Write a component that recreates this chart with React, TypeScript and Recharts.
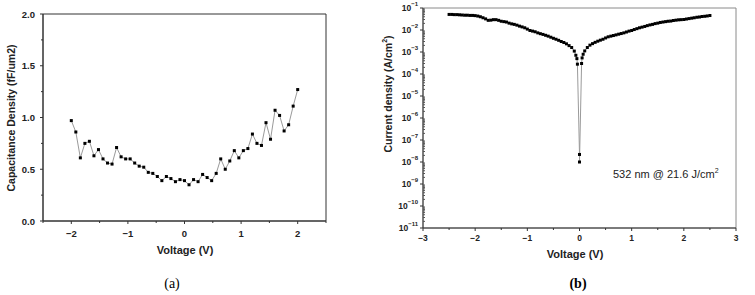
import React from "react";
import { LineChart, Line, XAxis, YAxis, ReferenceArea } from "recharts";

// (a) C-V
const voltageA = [
  -2, -1.92, -1.84, -1.76, -1.68, -1.6, -1.52, -1.44, -1.36, -1.28,
  -1.2, -1.12, -1.04, -0.96, -0.88, -0.8, -0.72, -0.64, -0.56, -0.48,
  -0.4, -0.32, -0.24, -0.16, -0.08, 0, 0.08, 0.16, 0.24, 0.32,
  0.4, 0.48, 0.56, 0.64, 0.72, 0.8, 0.88, 0.96, 1.04, 1.12,
  1.2, 1.28, 1.36, 1.44, 1.52, 1.6, 1.68, 1.76, 1.84, 1.92, 2,
];
const capacitance = [
  0.97, 0.86, 0.61, 0.75, 0.77, 0.63, 0.69, 0.6, 0.56, 0.55,
  0.71, 0.62, 0.6, 0.6, 0.56, 0.53, 0.52, 0.47, 0.46, 0.43,
  0.39, 0.43, 0.41, 0.38, 0.4, 0.39, 0.35, 0.4, 0.38, 0.45,
  0.42, 0.39, 0.46, 0.6, 0.5, 0.58, 0.68, 0.61, 0.68, 0.7,
  0.84, 0.75, 0.73, 0.95, 0.79, 1.07, 1.02, 0.87, 0.93, 1.11, 1.27,
];
const xTicksA = [-2.5, -2, -1.5, -1, -0.5, 0, 0.5, 1, 1.5, 2, 2.5];
const yTicksA = [0, 0.25, 0.5, 0.75, 1, 1.25, 1.5, 1.75, 2];

// (b) J-V under illumination
const voltageB = [
  -2.5, -2.45, -2.4, -2.35, -2.3, -2.25, -2.2, -2.15, -2.1, -2.05,
  -2, -1.95, -1.9, -1.85, -1.8, -1.75, -1.7, -1.65, -1.6, -1.55,
  -1.5, -1.45, -1.4, -1.35, -1.3, -1.25, -1.2, -1.15, -1.1, -1.05,
  -1, -0.95, -0.9, -0.85, -0.8, -0.75, -0.7, -0.65, -0.6, -0.55,
  -0.5, -0.45, -0.4, -0.35, -0.3, -0.25, -0.2, -0.15, -0.1,
  -0.07, -0.05, -0.04, 0, 0, 0.04, 0.05, 0.07,
  0.1, 0.15, 0.2, 0.25, 0.3, 0.35, 0.4, 0.45, 0.5, 0.55,
  0.6, 0.65, 0.7, 0.75, 0.8, 0.85, 0.9, 0.95, 1, 1.05,
  1.1, 1.15, 1.2, 1.25, 1.3, 1.35, 1.4, 1.45, 1.5, 1.55,
  1.6, 1.65, 1.7, 1.75, 1.8, 1.85, 1.9, 1.95, 2, 2.05,
  2.1, 2.15, 2.2, 2.25, 2.3, 2.35, 2.4, 2.45, 2.5,
];
const currentDensity = [
  5.1e-2, 5.1e-2, 5.0e-2, 5.0e-2, 4.9e-2, 4.8e-2, 4.7e-2, 4.7e-2, 4.6e-2, 4.6e-2,
  4.5e-2, 4.3e-2, 4.0e-2, 3.6e-2, 3.2e-2, 2.75e-2, 2.8e-2, 2.95e-2, 2.95e-2, 2.75e-2,
  2.5e-2, 2.4e-2, 2.3e-2, 2.05e-2, 1.9e-2, 1.8e-2, 1.66e-2, 1.5e-2, 1.38e-2, 1.26e-2,
  1.1e-2, 9.5e-3, 8.9e-3, 8.3e-3, 7.4e-3, 6.8e-3, 6.3e-3, 5.75e-3, 5.25e-3, 4.7e-3,
  4.2e-3, 3.8e-3, 3.4e-3, 3.0e-3, 2.7e-3, 2.35e-3, 1.95e-3, 1.6e-3, 1.1e-3,
  7.1e-4, 5.0e-4, 2.8e-4, 2.2e-8, 1.0e-8, 3.0e-4, 5.4e-4, 7.9e-4,
  1.12e-3, 1.6e-3, 2.05e-3, 2.4e-3, 2.75e-3, 3.1e-3, 3.45e-3, 3.8e-3, 4.35e-3, 4.9e-3,
  5.25e-3, 5.6e-3, 6.0e-3, 6.45e-3, 6.9e-3, 7.4e-3, 8.1e-3, 8.9e-3, 9.5e-3, 1.05e-2,
  1.15e-2, 1.26e-2, 1.35e-2, 1.45e-2, 1.58e-2, 1.7e-2, 1.8e-2, 1.95e-2, 2.05e-2, 2.2e-2,
  2.3e-2, 2.4e-2, 2.5e-2, 2.55e-2, 2.7e-2, 2.8e-2, 2.9e-2, 2.95e-2, 3.0e-2, 3.15e-2,
  3.3e-2, 3.45e-2, 3.6e-2, 3.8e-2, 3.9e-2, 4.1e-2, 4.2e-2, 4.35e-2, 4.55e-2,
];
const xTicksB = [-3, -2.5, -2, -1.5, -1, -0.5, 0, 0.5, 1, 1.5, 2, 2.5, 3];
const decadesB = [-11, -10, -9, -8, -7, -6, -5, -4, -3, -2, -1];
const yTicksB: number[] = [];
decadesB.forEach((d) => {
  yTicksB.push(Math.pow(10, d));
  if (d < -1) for (let m = 2; m <= 9; m++) yTicksB.push(m * Math.pow(10, d));
});

const dataA = voltageA.map((v, i) => ({ v, c: capacitance[i] }));
const dataB = voltageB.map((v, i) => ({ v, j: currentDensity[i] }));

const FONT = "'Liberation Sans', Arial, sans-serif";
const minus = (s: string) => s.replace("-", "\u2212");
const isInt = (v: number) => Math.abs(v - Math.round(v)) < 1e-9;

const squareDot = (size: number) => (p: any) =>
  p.cx == null ? <g key={`d${p.index}`} /> : (
    <rect key={`d${p.index}`} x={p.cx - size / 2} y={p.cy - size / 2} width={size} height={size} fill="#000" />
  );

const XTickA = ({ x, y, payload }: any) => {
  const major = isInt(payload.value);
  return (
    <g>
      <line x1={x} x2={x} y1={y} y2={y + (major ? 3 : 2)} stroke="#333" />
      {major && (
        <text x={x} y={y + 12} textAnchor="middle" dominantBaseline="central" fontSize={9.5} fontWeight="bold" fontFamily={FONT} fill="#222">
          {minus(String(payload.value))}
        </text>
      )}
    </g>
  );
};

const YTickA = ({ x, y, payload }: any) => {
  const major = isInt(payload.value * 2);
  return (
    <g>
      <line x1={x} x2={x - (major ? 3 : 2)} y1={y} y2={y} stroke="#333" />
      {major && (
        <text x={x - 8} y={y} textAnchor="end" dominantBaseline="central" fontSize={9.5} fontWeight="bold" fontFamily={FONT} fill="#222">
          {payload.value.toFixed(1)}
        </text>
      )}
    </g>
  );
};

const XTickB = ({ x, y, payload }: any) => {
  const major = isInt(payload.value);
  return (
    <g>
      <line x1={x} x2={x} y1={y} y2={y + (major ? 3 : 2)} stroke="#333" />
      {major && (
        <text x={x} y={y + 10} textAnchor="middle" dominantBaseline="central" fontSize={8.5} fontWeight="bold" fontFamily={FONT} fill="#222">
          {minus(String(payload.value))}
        </text>
      )}
    </g>
  );
};

const YTickB = ({ x, y, payload }: any) => {
  const exp = Math.log10(payload.value);
  const major = isInt(exp);
  if (!major) return <line x1={x} x2={x + 2} y1={y} y2={y} stroke="#555" />;
  return (
    <g>
      <line x1={x} x2={x - 3} y1={y} y2={y} stroke="#333" />
      <text x={x - 5} y={y} textAnchor="end" dominantBaseline="central" fontSize={8.5} fontWeight="bold" fontFamily={FONT} fill="#222">
        10<tspan fontSize={6} dy={-4}>{"\u2212" + Math.abs(Math.round(exp))}</tspan>
      </text>
    </g>
  );
};

export default function App() {
  return (
    <div style={{ position: "absolute", left: 0, top: 0, width: 755, height: 295, background: "#fff" }}>
      <div style={{ position: "absolute", left: 0, top: 0 }}>
        <LineChart width={370} height={260} data={dataA} margin={{ top: 14, right: 44, bottom: 0, left: 0 }}>
          <XAxis dataKey="v" type="number" domain={[-2.5, 2.5]} ticks={xTicksA} interval={0}
            tick={XTickA} tickLine={false} tickSize={0} tickMargin={0} height={39} axisLine={{ stroke: "#333" }} />
          <YAxis type="number" domain={[0, 2]} ticks={yTicksA} interval={0}
            tick={YTickA} tickLine={false} tickSize={0} tickMargin={0} width={43} axisLine={{ stroke: "#333" }} />
          <ReferenceArea x1={-2.5} x2={2.5} y1={0} y2={2} fill="none" stroke="#333" strokeWidth={1} />
          <Line dataKey="c" type="linear" stroke="#9a9a9a" strokeWidth={1} dot={squareDot(3)} isAnimationActive={false} />
        </LineChart>
      </div>
      <div style={{ position: "absolute", left: 380, top: 0 }}>
        <LineChart width={375} height={260} data={dataB} margin={{ top: 8, right: 19, bottom: 0, left: 0 }}>
          <XAxis dataKey="v" type="number" domain={[-3, 3]} ticks={xTicksB} interval={0}
            tick={XTickB} tickLine={false} tickSize={0} tickMargin={0} height={32} axisLine={{ stroke: "#333" }} />
          <YAxis type="number" scale="log" domain={[1e-11, 1e-1]} ticks={yTicksB} interval={0} allowDataOverflow
            tick={YTickB} tickLine={false} tickSize={0} tickMargin={0} width={43} axisLine={{ stroke: "#333" }} />
          <ReferenceArea x1={-3} x2={3} y1={1e-11} y2={1e-1} fill="none" stroke="#8a8a8a" strokeWidth={1} />
          <Line dataKey="j" type="linear" stroke="#9a9a9a" strokeWidth={1} dot={squareDot(3)} isAnimationActive={false} />
        </LineChart>
      </div>
      <svg width={755} height={295} style={{ position: "absolute", left: 0, top: 0, pointerEvents: "none" }}>
        <text x={11} y={118} transform="rotate(-90 11 118)" textAnchor="middle" dominantBaseline="central"
          fontSize={10.5} fontWeight="bold" fontFamily={FONT} fill="#222">Capacitance Density (fF/um2)</text>
        <text x={185} y={250} textAnchor="middle" dominantBaseline="central" fontSize={11} fontWeight="bold" fontFamily={FONT} fill="#222">Voltage (V)</text>
        <text x={172} y={283} textAnchor="middle" dominantBaseline="central" fontSize={14} fontFamily="'Liberation Serif', 'Times New Roman', serif" fill="#000">(a)</text>

        <text x={388} y={94} transform="rotate(-90 388 94)" textAnchor="middle" dominantBaseline="central"
          fontSize={10.5} fontWeight="bold" fontFamily={FONT} fill="#222">
          Current density (A/cm<tspan fontSize={7} dy={-4}>2</tspan><tspan dy={4}>)</tspan>
        </text>
        <text x={575} y={254} textAnchor="middle" dominantBaseline="central" fontSize={11} fontWeight="bold" fontFamily={FONT} fill="#222">Voltage (V)</text>
        <text x={613} y={174} dominantBaseline="central" fontSize={11} fontFamily={FONT} fill="#222">
          532 nm @ 21.6 J/cm<tspan fontSize={7} dy={-4}>2</tspan>
        </text>
        <text x={578} y={283} textAnchor="middle" dominantBaseline="central" fontSize={14} fontWeight="bold" fontFamily="'Liberation Serif', 'Times New Roman', serif" fill="#000">(b)</text>
      </svg>
    </div>
  );
}
